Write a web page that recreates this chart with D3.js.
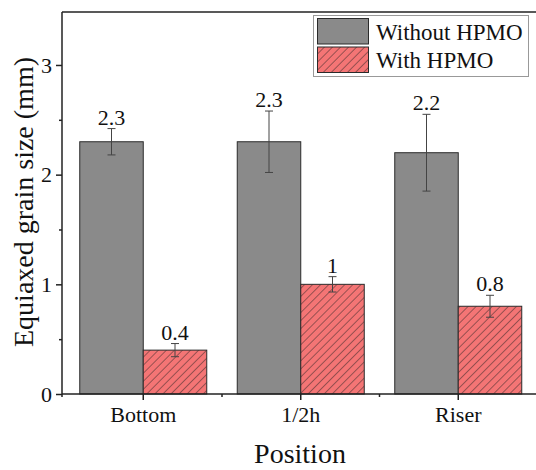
<!DOCTYPE html>
<html>
<head>
<meta charset="utf-8">
<script src="https://cdn.jsdelivr.net/npm/d3@7"></script>
<style>
  body { margin: 0; background: #fff; }
  svg text { font-family: "Liberation Serif", "Times New Roman", serif; }
</style>
</head>
<body>
<svg id="chart"></svg>
<script>
const width = 536;
const height = 470;

// data
const positions = ["Bottom", "1/2h", "Riser"];
const seriesNames = ["Without HPMO", "With HPMO"];
const withoutValues = [2.3, 2.3, 2.2];
const withoutErrors = [0.12, 0.28, 0.35];
const withValues = [0.4, 1.0, 0.8];
const withErrors = [0.06, 0.07, 0.1];
const valueLabels = [["2.3", "2.3", "2.2"], ["0.4", "1", "0.8"]];
const yTicks = [0, 1, 2, 3];
const yMinorTicks = [0.5, 1.5, 2.5];

const axisLeftX = 62;
const axisBottomY = 394;
const axisTopY = 12;
const serif = "'Liberation Serif', 'Times New Roman', serif";

let svg = d3.select("#chart")
    .attr("width", width)
    .attr("height", height);

let defs = svg.append("defs");
let pat = defs.append("pattern")
    .attr("id", "hatch")
    .attr("patternUnits", "userSpaceOnUse")
    .attr("width", 5.7)
    .attr("height", 5.7)
    .attr("patternTransform", "rotate(45)");
pat.append("rect").attr("width", 5.7).attr("height", 5.7).attr("fill", "#f47575");
pat.append("line")
    .attr("x1", 0).attr("y1", 0).attr("x2", 0).attr("y2", 5.7)
    .attr("stroke", "#3a2a2a").attr("stroke-width", 1);

let scaleX = d3.scaleBand()
    .domain(positions)
    .range([64.5, 537]);

let scaleY = d3.scaleLinear()
    .domain([0, 3.483])
    .range([axisBottomY, axisTopY]);

const barW = 63.5;
const fills = ["#8a8a8a", "url(#hatch)"];

let series = [
    {values: withoutValues, errors: withoutErrors, offset: -barW},
    {values: withValues, errors: withErrors, offset: 0}
];

// bars
series.forEach((s, si) => {
    let rows = positions.map((p, i) => ({p: p, v: s.values[i], e: s.errors[i], label: valueLabels[si][i]}));
    svg.append("g").selectAll("rect")
        .data(rows)
        .enter()
        .append("rect")
        .attr("x", d => scaleX(d.p) + scaleX.bandwidth() / 2 + s.offset)
        .attr("y", d => scaleY(d.v))
        .attr("width", barW)
        .attr("height", d => axisBottomY - scaleY(d.v))
        .attr("fill", fills[si])
        .attr("stroke", "#2b2b2b")
        .attr("stroke-width", 1);

    let eg = svg.append("g").attr("stroke", "#444").attr("stroke-width", 1);
    rows.forEach(d => {
        let x = scaleX(d.p) + scaleX.bandwidth() / 2 + s.offset + barW / 2;
        let y1 = scaleY(d.v + d.e), y2 = scaleY(d.v - d.e);
        eg.append("line").attr("x1", x).attr("x2", x).attr("y1", y1).attr("y2", y2);
        eg.append("line").attr("x1", x - 4).attr("x2", x + 4).attr("y1", y1).attr("y2", y1);
        eg.append("line").attr("x1", x - 4).attr("x2", x + 4).attr("y1", y2).attr("y2", y2);
        svg.append("text")
            .attr("x", x)
            .attr("y", y1 - 4)
            .attr("text-anchor", "middle")
            .style("font-family", serif)
            .style("font-size", "22px")
            .attr("fill", "#111")
            .text(d.label);
    });
});

// axes
let axisY = d3.axisLeft(scaleY).tickValues(yTicks).tickSize(6).tickPadding(4).tickFormat(d3.format("d"));
let gy = svg.append("g")
    .attr("transform", `translate(${axisLeftX}, 0)`)
    .call(axisY);
gy.select(".domain").remove();
gy.selectAll("text").style("font-family", serif).style("font-size", "22px").attr("fill", "#111");
gy.selectAll("line").attr("stroke", "#222").attr("stroke-width", 1.5);

let gym = svg.append("g")
    .attr("transform", `translate(${axisLeftX}, 0)`)
    .call(d3.axisLeft(scaleY).tickValues(yMinorTicks).tickSize(3).tickFormat(""));
gym.select(".domain").remove();
gym.selectAll("line").attr("stroke", "#222").attr("stroke-width", 1.5);

let axisX = d3.axisBottom(scaleX).tickSize(6).tickPadding(6);
let gx = svg.append("g")
    .attr("transform", `translate(0, ${axisBottomY})`)
    .call(axisX);
gx.select(".domain").remove();
gx.selectAll("text").style("font-family", serif).style("font-size", "22px").attr("fill", "#111");
gx.selectAll("line").attr("stroke", "#222").attr("stroke-width", 1.5);

// minor x ticks between categories
let minorX = positions.slice(1).map(p => scaleX(p));
svg.append("g").selectAll("line")
    .data(minorX)
    .enter()
    .append("line")
    .attr("x1", d => d).attr("x2", d => d)
    .attr("y1", axisBottomY).attr("y2", axisBottomY + 3)
    .attr("stroke", "#222").attr("stroke-width", 1.5);

// frame lines
svg.append("line")
    .attr("x1", axisLeftX).attr("x2", width)
    .attr("y1", axisBottomY).attr("y2", axisBottomY)
    .attr("stroke", "#222").attr("stroke-width", 1.5);
svg.append("line")
    .attr("x1", axisLeftX).attr("x2", width)
    .attr("y1", axisTopY).attr("y2", axisTopY)
    .attr("stroke", "#222").attr("stroke-width", 1.5);
svg.append("line")
    .attr("x1", axisLeftX).attr("x2", axisLeftX)
    .attr("y1", axisTopY).attr("y2", axisBottomY + 3)
    .attr("stroke", "#222").attr("stroke-width", 1.5);

// axis titles
svg.append("text")
    .attr("transform", "translate(33, 202) rotate(-90)")
    .attr("text-anchor", "middle")
    .style("font-family", serif)
    .style("font-size", "28px")
    .attr("fill", "#111")
    .text("Equiaxed grain size (mm)");

svg.append("text")
    .attr("x", 300)
    .attr("y", 463)
    .attr("text-anchor", "middle")
    .style("font-family", serif)
    .style("font-size", "28px")
    .attr("fill", "#111")
    .text("Position");

// legend
let legend = svg.append("g");
legend.append("rect")
    .attr("x", 313.5).attr("y", 15.5)
    .attr("width", 215).attr("height", 61)
    .attr("fill", "#fff")
    .attr("stroke", "#999").attr("stroke-width", 1);
seriesNames.forEach((name, i) => {
    legend.append("rect")
        .attr("x", 317.5).attr("y", 18.5 + i * 28.5)
        .attr("width", 51).attr("height", 25.5)
        .attr("fill", fills[i])
        .attr("stroke", "#2b2b2b").attr("stroke-width", 1);
    legend.append("text")
        .attr("x", 376)
        .attr("y", 40 + i * 28)
        .style("font-family", serif)
        .style("font-size", "23px")
        .attr("fill", "#111")
        .text(name);
});
</script>
</body>
</html>
